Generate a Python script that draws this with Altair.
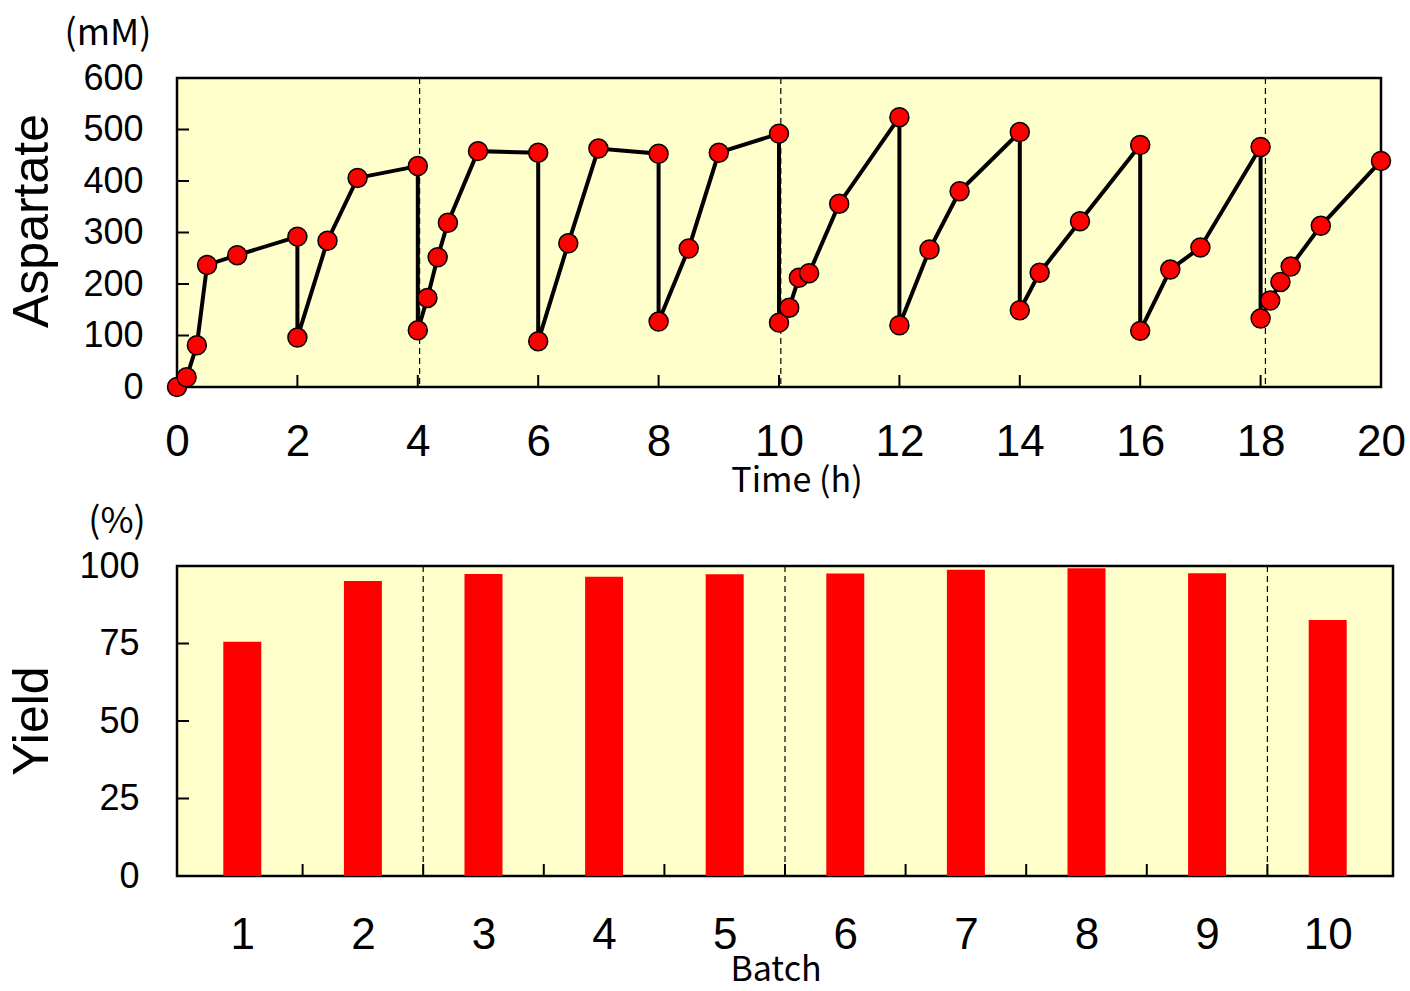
import altair as alt
import pandas as pd

# ---------------- data ----------------
time_h = [0, 0.16, 0.33, 0.5, 1.0, 2.0, 2.0, 2.5, 3.0, 4.0, 4.0, 4.16, 4.33, 4.5, 5.0,
          6.0, 6.0, 6.5, 7.0, 8.0, 8.0, 8.5, 9.0, 10.0, 10.0, 10.17, 10.33, 10.5, 11.0,
          12.0, 12.0, 12.5, 13.0, 14.0, 14.0, 14.33, 15.0, 16.0, 16.0, 16.5, 17.0,
          18.0, 18.0, 18.16, 18.33, 18.5, 19.0, 20.0]
aspartate = [0, 19, 81, 237, 256, 292, 96, 284, 406, 429, 110, 173, 252, 319, 458,
             455, 89, 279, 463, 453, 127, 269, 455, 492, 125, 154, 212, 221, 356,
             524, 120, 267, 380, 495, 149, 222, 322, 470, 109, 228, 271,
             466, 133, 168, 204, 234, 313, 439]
hour_ticks = [0, 2, 4, 6, 8, 10, 12, 14, 16, 18, 20]
asp_ticks = [0, 100, 200, 300, 400, 500, 600]
top_dividers = [4.03, 10.03, 18.08]

batch = [1, 2, 3, 4, 5, 6, 7, 8, 9, 10]
yield_pct = [75.6, 95.2, 97.4, 96.5, 97.3, 97.6, 98.8, 99.3, 97.7, 82.6]
yield_ticks = [0, 25, 50, 75, 100]
batch_bounds = [1.5, 2.5, 3.5, 4.5, 5.5, 6.5, 7.5, 8.5, 9.5]
bottom_dividers = [2.5, 5.5, 9.5]

W1, H1 = 1204, 309
W2, H2 = 1216, 310
TICK = 12
LABEL_FONT = "Liberation Sans"
JP_FONT = "Noto Sans CJK JP"

# ---------------- top chart ----------------
df_top = pd.DataFrame({"t": time_h, "a": aspartate, "i": list(range(len(time_h)))})
xt = alt.X("t:Q", scale=alt.Scale(domain=[0, 20], nice=False, zero=False),
           axis=alt.Axis(values=hour_ticks, title="", ticks=False, tickSize=0, domain=False,
                         grid=False, labelFontSize=44, labelPadding=33, labelFont=LABEL_FONT,
                         labelColor="black", format="d", labelFlush=False))
yt = alt.Y("a:Q", scale=alt.Scale(domain=[0, 600], nice=False),
           axis=alt.Axis(values=asp_ticks, title="", ticks=False, tickSize=0, domain=False,
                         grid=False, labelFontSize=36, labelPadding=34, labelFont=LABEL_FONT,
                         labelColor="black", format="d", labelFlush=False))

line = alt.Chart(df_top).mark_line(color="black", strokeWidth=4).encode(
    x=xt, y=yt, order="i:Q")
points = alt.Chart(df_top).mark_point(filled=True, fill="#FF0000", stroke="black",
                                      strokeWidth=1.5, size=360, opacity=1, shape="circle").encode(
    x=xt, y=yt)
div_top = alt.Chart(pd.DataFrame({"t": top_dividers})).mark_rule(
    color="black", strokeWidth=1.2, strokeDash=[6, 4]).encode(
    x=xt, y=alt.value(0), y2=alt.value(H1))
ytick_top = alt.Chart(pd.DataFrame({"a": asp_ticks[1:-1]})).mark_rule(
    color="black", strokeWidth=2).encode(y=yt, x=alt.value(0), x2=alt.value(TICK))
xtick_top = alt.Chart(pd.DataFrame({"t": hour_ticks[1:-1]})).mark_rule(
    color="black", strokeWidth=2).encode(x=xt, y=alt.value(H1), y2=alt.value(H1 - TICK))
unit_top = alt.Chart(pd.DataFrame({"s": ["(mM)"]})).mark_text(
    font=JP_FONT, fontSize=36, color="black", align="center", baseline="middle").encode(
    text="s:N", x=alt.value(-69), y=alt.value(-44))
title_top = alt.Chart(pd.DataFrame({"s": ["Aspartate"]})).mark_text(
    font=LABEL_FONT, fontSize=50, color="black", align="center", baseline="middle", angle=270).encode(
    text="s:N", x=alt.value(-144), y=alt.value(143))
xtitle_top = alt.Chart(pd.DataFrame({"s": ["Time (h)"]})).mark_text(
    font=JP_FONT, fontSize=34, color="black", align="center", baseline="middle").encode(
    text="s:N", x=alt.value(620), y=alt.value(404))

top = alt.layer(div_top, ytick_top, xtick_top, line, points, unit_top, title_top, xtitle_top
                ).properties(width=W1, height=H1)

# ---------------- bottom chart ----------------
df_bot = pd.DataFrame({"b": batch, "y": yield_pct})
xb = alt.X("b:Q", scale=alt.Scale(domain=[0.5, 10.5], nice=False, zero=False),
           axis=alt.Axis(values=batch, title="", ticks=False, tickSize=0, domain=False,
                         grid=False, labelFontSize=44, labelPadding=37, labelFont=LABEL_FONT,
                         labelColor="black", format="d", labelFlush=False))
yb = alt.Y("y:Q", scale=alt.Scale(domain=[0, 100], nice=False),
           axis=alt.Axis(values=yield_ticks, title="", ticks=False, tickSize=0, domain=False,
                         grid=False, labelFontSize=36, labelPadding=38, labelFont=LABEL_FONT,
                         labelColor="black", format="d", labelFlush=False))

bars = alt.Chart(df_bot).mark_bar(color="#FF0000", size=38).encode(x=xb, y=yb)
div_bot = alt.Chart(pd.DataFrame({"b": bottom_dividers})).mark_rule(
    color="black", strokeWidth=1.2, strokeDash=[6, 4]).encode(
    x=xb, y=alt.value(0), y2=alt.value(H2))
ytick_bot = alt.Chart(pd.DataFrame({"y": yield_ticks[1:-1]})).mark_rule(
    color="black", strokeWidth=2).encode(y=yb, x=alt.value(0), x2=alt.value(TICK))
xtick_bot = alt.Chart(pd.DataFrame({"b": batch_bounds})).mark_rule(
    color="black", strokeWidth=2).encode(x=xb, y=alt.value(H2), y2=alt.value(H2 - TICK))
unit_bot = alt.Chart(pd.DataFrame({"s": ["(%)"]})).mark_text(
    font=JP_FONT, fontSize=36, color="black", align="center", baseline="middle").encode(
    text="s:N", x=alt.value(-60), y=alt.value(-44))
title_bot = alt.Chart(pd.DataFrame({"s": ["Yield"]})).mark_text(
    font=LABEL_FONT, fontSize=50, color="black", align="center", baseline="middle", angle=270).encode(
    text="s:N", x=alt.value(-144), y=alt.value(155))
xtitle_bot = alt.Chart(pd.DataFrame({"s": ["Batch"]})).mark_text(
    font=JP_FONT, fontSize=34, color="black", align="center", baseline="middle").encode(
    text="s:N", x=alt.value(599), y=alt.value(405))

bottom = alt.layer(div_bot, ytick_bot, xtick_bot, bars, unit_bot, title_bot, xtitle_bot
                   ).properties(width=W2, height=H2)

chart = alt.vconcat(top, bottom, spacing=1).properties(
    padding={"left": 6, "top": 14, "right": 0, "bottom": 0}
).configure_view(stroke="black", strokeWidth=2.5, fill="#FFFFCC")

chart.save("out.html", embed_options={"renderer": "svg", "actions": False})
